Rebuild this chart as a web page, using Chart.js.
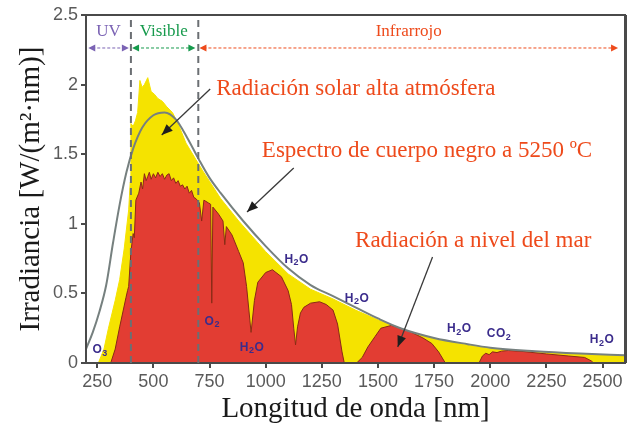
<html>
<head>
    <title>Espectro de radiación solar</title>
    <style>
        body { margin: 0; background: #fff; }
    </style>
</head>
<body>
    <canvas id="myChart" width="630" height="427"></canvas>

    <script src="https://cdn.jsdelivr.net/npm/chart.js"></script>

<script>
    // tick labels
    const xTicks = [250, 500, 750, 1000, 1250, 1500, 1750, 2000, 2250, 2500];
    const yTicks = [0, 0.5, 1, 1.5, 2, 2.5];

    // blackbody curve at 5250 C
    const bbNm  = [200, 230, 260, 290, 320, 350, 380, 410, 450, 500, 550, 600, 650, 700, 750, 800, 900, 1000, 1100, 1200, 1300, 1400, 1500, 1600, 1750, 1900, 2000, 2200, 2400, 2600];
    const bbVal = [0.10, 0.22, 0.37, 0.56, 0.86, 1.14, 1.37, 1.54, 1.69, 1.78, 1.80, 1.75, 1.62, 1.47, 1.33, 1.22, 1.02, 0.84, 0.68, 0.56, 0.48, 0.40, 0.32, 0.25, 0.18, 0.135, 0.11, 0.085, 0.068, 0.055];

    // top of atmosphere (yellow)
    const toaNm  = [255, 280, 300, 330, 350, 370, 390, 397, 400, 410, 420, 430, 440, 450, 460, 475, 490, 505, 520, 540, 560, 585, 610, 645, 690, 720, 760, 800, 880, 1000, 1100, 1200, 1300, 1400, 1500, 1600, 1750, 1900, 2000, 2200, 2400, 2600];
    const toaVal = [0, 0.10, 0.25, 0.45, 0.60, 0.82, 1.10, 1.30, 1.72, 1.70, 1.74, 1.80, 2.03, 1.98, 2.00, 2.05, 1.95, 1.93, 1.90, 1.88, 1.84, 1.80, 1.72, 1.58, 1.46, 1.38, 1.28, 1.18, 1.02, 0.80, 0.64, 0.53, 0.46, 0.38, 0.31, 0.245, 0.175, 0.13, 0.105, 0.08, 0.065, 0.052];

    // sea level (red)
    const seaNm  = [310, 330, 350, 378, 385, 390, 400, 410, 415, 422, 435, 445, 452, 460, 468, 475, 482, 490, 500, 510, 520, 530, 540, 550, 560, 570, 580, 590, 600, 610, 620, 630, 640, 650, 660, 670, 680, 690, 705, 715, 725, 745, 755, 760, 765, 790, 810, 818, 825, 850, 880, 900, 915, 935, 950, 965, 1000, 1030, 1070, 1100, 1115, 1125, 1133, 1142, 1155, 1170, 1200, 1240, 1270, 1300, 1320, 1340, 1350, 1405, 1430, 1455, 1487, 1513, 1560, 1600, 1650, 1700, 1740, 1770, 1800, 1950, 1965, 1980, 1995, 2010, 2030, 2050, 2080, 2150, 2250, 2350, 2420, 2450, 2460];
    const seaVal = [0, 0.10, 0.26, 0.47, 0.52, 0.55, 0.80, 0.93, 0.90, 1.17, 1.22, 1.30, 1.25, 1.36, 1.31, 1.34, 1.37, 1.32, 1.36, 1.33, 1.37, 1.34, 1.36, 1.32, 1.35, 1.36, 1.31, 1.33, 1.29, 1.31, 1.27, 1.28, 1.25, 1.27, 1.22, 1.24, 1.19, 1.18, 1.15, 1.02, 1.17, 1.15, 1.14, 0.43, 1.12, 1.07, 1.02, 0.85, 0.98, 0.92, 0.80, 0.72, 0.55, 0.22, 0.45, 0.58, 0.65, 0.67, 0.62, 0.52, 0.42, 0.25, 0.13, 0.26, 0.36, 0.40, 0.43, 0.44, 0.42, 0.38, 0.28, 0.08, 0, 0, 0.04, 0.115, 0.19, 0.25, 0.27, 0.25, 0.22, 0.18, 0.14, 0.08, 0, 0, 0.05, 0.07, 0.06, 0.08, 0.075, 0.085, 0.09, 0.082, 0.065, 0.05, 0.04, 0.015, 0];

    // spectral bands on top (nm), dashed limits
    const bandLimits = [400, 700];
    const bands = [
        {label: 'UV', from: 210, to: 391, color: '#7b63b4'},
        {label: 'Visible', from: 405, to: 687, color: '#169a4c'},
        {label: 'Infrarrojo', from: 705, to: 2569, color: '#ee4a1b'}
    ];
    const bandArrowY = 2.263;
    const bandLabelY = 2.378;

    // text notes with arrows, in data units (nm, W/(m2 nm))
    const notes = [
        {text: 'Radiación solar alta atmósfera', x: 780, y: 1.925, from: [753, 1.968], to: [537, 1.638]},
        {text: 'Espectro de cuerpo negro a 5250 ºC', x: 983, y: 1.48, from: [1125, 1.401], to: [917, 1.085]},
        {text: 'Radiación a nivel del mar', x: 1398, y: 0.833, from: [1743, 0.761], to: [1588, 0.115]}
    ];

    // absorption bands
    const molecules = [
        {text: 'O3', x: 263, y: 0.093},
        {text: 'O2', x: 762, y: 0.30},
        {text: 'H2O', x: 939, y: 0.108},
        {text: 'H2O', x: 1138, y: 0.74},
        {text: 'H2O', x: 1407, y: 0.46},
        {text: 'H2O', x: 1862, y: 0.244},
        {text: 'CO2', x: 2039, y: 0.208},
        {text: 'H2O', x: 2498, y: 0.165}
    ];

    function pts(xs, ys) {
        return xs.map((x, i) => ({x: x, y: ys[i]}));
    }

    function arrowHead(ctx, x1, y1, x2, y2, len, half) {
        const a = Math.atan2(y2 - y1, x2 - x1);
        ctx.beginPath();
        ctx.moveTo(x2, y2);
        ctx.lineTo(x2 - len * Math.cos(a) + half * Math.sin(a), y2 - len * Math.sin(a) - half * Math.cos(a));
        ctx.lineTo(x2 - len * Math.cos(a) - half * Math.sin(a), y2 - len * Math.sin(a) + half * Math.cos(a));
        ctx.closePath();
        ctx.fill();
    }

    function chem(ctx, str, cx, cy) {
        const big = 'bold 12px "Liberation Sans"';
        const small = 'bold 9px "Liberation Sans"';
        let w = 0;
        for (const ch of str) {
            ctx.font = /\d/.test(ch) ? small : big;
            w += ctx.measureText(ch).width + 0.5;
        }
        let x = cx - w / 2;
        ctx.textAlign = 'left';
        ctx.textBaseline = 'middle';
        for (const ch of str) {
            const sub = /\d/.test(ch);
            ctx.font = sub ? small : big;
            ctx.fillText(ch, x, sub ? cy + 3 : cy);
            x += ctx.measureText(ch).width + 0.5;
        }
    }

    const annotations = {
        id: 'annotations',
        afterDatasetsDraw(chart) {
            const ctx = chart.ctx;
            const xs = chart.scales.x, ys = chart.scales.y;
            const area = chart.chartArea;
            ctx.save();

            // frame
            ctx.strokeStyle = '#4a4a4a';
            ctx.lineWidth = 2;
            ctx.strokeRect(area.left, area.top, area.right - area.left, area.bottom - area.top);
            ctx.lineWidth = 3;
            ctx.beginPath();
            ctx.moveTo(area.right + 0.5, area.top);
            ctx.lineTo(area.right + 0.5, area.bottom);
            ctx.stroke();

            // dashed limits
            ctx.strokeStyle = '#6b6f73';
            ctx.lineWidth = 2;
            ctx.setLineDash([7, 5]);
            bandLimits.forEach(v => {
                const px = xs.getPixelForValue(v);
                ctx.beginPath();
                ctx.moveTo(px, area.top + 5);
                ctx.lineTo(px, area.bottom);
                ctx.stroke();
            });

            // band arrows
            const ay = ys.getPixelForValue(bandArrowY);
            const ly = ys.getPixelForValue(bandLabelY);
            bands.forEach(b => {
                const x1 = xs.getPixelForValue(b.from), x2 = xs.getPixelForValue(b.to);
                ctx.strokeStyle = b.color;
                ctx.fillStyle = b.color;
                ctx.lineWidth = 1;
                ctx.setLineDash([3, 2]);
                ctx.beginPath();
                ctx.moveTo(x1 + 4, ay);
                ctx.lineTo(x2 - 4, ay);
                ctx.stroke();
                ctx.setLineDash([]);
                arrowHead(ctx, x2, ay, x1, ay, 7, 3.5);
                arrowHead(ctx, x1, ay, x2, ay, 7, 3.5);
                ctx.font = '17px "Liberation Serif"';
                ctx.textAlign = 'center';
                ctx.textBaseline = 'middle';
                ctx.fillText(b.label, (x1 + x2) / 2, ly);
            });

            // notes
            ctx.setLineDash([]);
            notes.forEach(n => {
                ctx.fillStyle = '#ee4a1b';
                ctx.font = '23px "Liberation Serif"';
                ctx.textAlign = 'left';
                ctx.textBaseline = 'alphabetic';
                ctx.fillText(n.text, xs.getPixelForValue(n.x), ys.getPixelForValue(n.y));
                const x1 = xs.getPixelForValue(n.from[0]), y1 = ys.getPixelForValue(n.from[1]);
                const x2 = xs.getPixelForValue(n.to[0]), y2 = ys.getPixelForValue(n.to[1]);
                ctx.strokeStyle = '#3a3a3a';
                ctx.fillStyle = '#1e1e1e';
                ctx.lineWidth = 1.3;
                ctx.beginPath();
                ctx.moveTo(x1, y1);
                ctx.lineTo(x2, y2);
                ctx.stroke();
                arrowHead(ctx, x1, y1, x2, y2, 11, 4.5);
            });

            // molecules
            ctx.fillStyle = '#3b2c8c';
            molecules.forEach(m => {
                chem(ctx, m.text, xs.getPixelForValue(m.x), ys.getPixelForValue(m.y));
            });

            ctx.restore();
        }
    };

    const tickFont = {family: 'Liberation Sans', size: 18};
    const titleFont = {family: 'Liberation Serif', size: 29};

    const ctx = document.getElementById('myChart').getContext('2d');
    const myChart = new Chart(ctx, {
        type: 'line',
        data: {
            datasets: [{
                label: 'Espectro de cuerpo negro a 5250 ºC',
                data: pts(bbNm, bbVal),
                borderColor: '#76807f',
                borderWidth: 2,
                pointRadius: 0,
                fill: false,
                cubicInterpolationMode: 'monotone',
                order: 0
            }, {
                label: 'Radiación a nivel del mar',
                data: pts(seaNm, seaVal),
                borderColor: '#8a2a16',
                borderWidth: 1,
                backgroundColor: '#e23d33',
                fill: 'origin',
                pointRadius: 0,
                order: 1
            }, {
                label: 'Radiación solar alta atmósfera',
                data: pts(toaNm, toaVal),
                borderColor: '#f5e300',
                borderWidth: 1,
                backgroundColor: '#f5e300',
                fill: 'origin',
                pointRadius: 0,
                order: 2
            }]
        },
        options: {
            responsive: false,
            animation: false,
            layout: { padding: { top: 15, right: 5, left: 0, bottom: 0 } },
            plugins: {
                legend: { display: false },
                tooltip: { enabled: false }
            },
            scales: {
                x: {
                    type: 'linear',
                    min: 200,
                    max: 2600,
                    afterBuildTicks: s => { s.ticks = xTicks.map(v => ({value: v})); },
                    afterFit: s => { s.height = 64; },
                    ticks: { font: tickFont, color: '#5a5a5a', padding: 3, maxRotation: 0, callback: v => String(v) },
                    grid: { drawOnChartArea: false, tickLength: 5, color: '#4a4a4a', lineWidth: 2 },
                    border: { color: '#4a4a4a', width: 2 },
                    title: { display: true, text: 'Longitud de onda [nm]', font: titleFont, color: '#1a1a1a', padding: 0 }
                },
                y: {
                    min: 0,
                    max: 2.5,
                    afterBuildTicks: s => { s.ticks = yTicks.map(v => ({value: v})); },
                    afterFit: s => { s.width = 86; },
                    ticks: { font: tickFont, color: '#5a5a5a', padding: 3, callback: v => String(v) },
                    grid: { drawOnChartArea: false, tickLength: 5, color: '#4a4a4a', lineWidth: 2 },
                    border: { color: '#4a4a4a', width: 2 },
                    title: { display: true, text: 'Irradiancia [W/(m²·nm)]', font: titleFont, color: '#1a1a1a', padding: { top: 14, bottom: 0 } }
                }
            }
        },
        plugins: [annotations]
    });
</script>
</body>
</html>
